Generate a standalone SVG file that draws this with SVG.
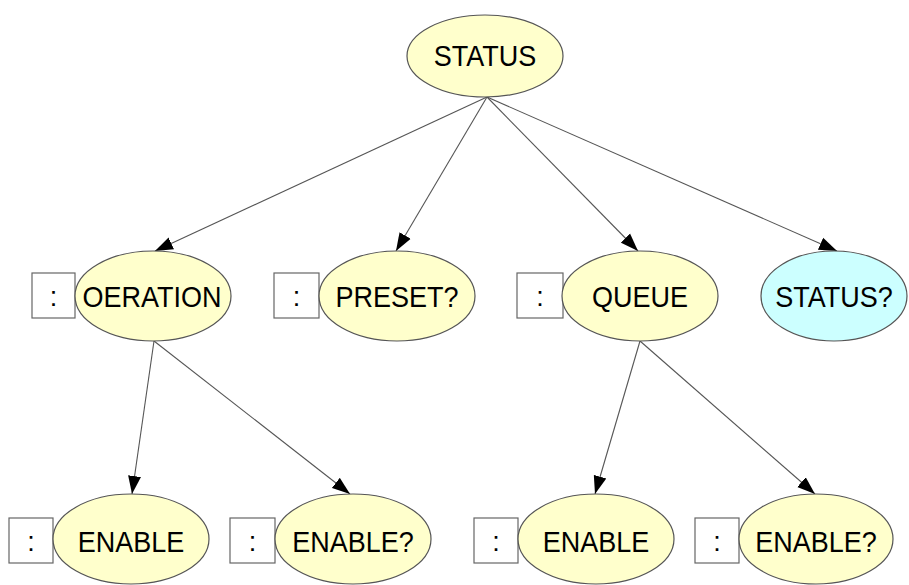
<svg xmlns="http://www.w3.org/2000/svg" width="909" height="585" viewBox="0 0 909 585">
  <style>
    .node ellipse { fill: #ffffcc; stroke: #555555; stroke-width: 1.2; }
    .node ellipse.query { fill: #ccffff; }
    .node rect { fill: #ffffff; stroke: #666666; stroke-width: 1.2; }
    text { font-family: "Liberation Sans", Arial, sans-serif; font-size: 27px; fill: #000000; text-anchor: middle; }
    .edges line { stroke: #555555; stroke-width: 1.1; marker-end: url(#arrow); }
  </style>
  <defs>
    <marker id="arrow" markerUnits="userSpaceOnUse" markerWidth="20" markerHeight="14" refX="18" refY="7" orient="auto">
      <path d="M0,0.5 L18,7 L0,13.5 Z" fill="#000000"/>
    </marker>
  </defs>
  <rect width="909" height="585" fill="#ffffff"/>

  <g class="edges">
    <line x1="487" y1="97" x2="155" y2="251"/>
    <line x1="487" y1="97" x2="396" y2="251"/>
    <line x1="487" y1="97" x2="638" y2="251"/>
    <line x1="487" y1="97" x2="837" y2="251"/>
    <line x1="154" y1="341" x2="132" y2="494"/>
    <line x1="154" y1="341" x2="350" y2="494"/>
    <line x1="640" y1="341" x2="595" y2="494"/>
    <line x1="640" y1="341" x2="815" y2="494"/>
  </g>

  <g id="status" class="node">
    <ellipse cx="485" cy="56" rx="78" ry="41"/>
    <text x="485" y="66" transform="translate(0,-6.6) scale(1,1.1)">STATUS</text>
  </g>

  <g id="operation" class="node">
    <rect x="32" y="273" width="43" height="45"/>
    <text x="53.5" y="306">:</text>
    <ellipse cx="153" cy="296" rx="78" ry="45"/>
    <text x="152" y="307" transform="translate(0,-30.7) scale(1,1.1)">OERATION</text>
  </g>

  <g id="preset" class="node">
    <rect x="274" y="273" width="45" height="45"/>
    <text x="296.5" y="306">:</text>
    <ellipse cx="397" cy="296" rx="78" ry="45"/>
    <text x="397" y="307" transform="translate(0,-30.7) scale(1,1.1)">PRESET?</text>
  </g>

  <g id="queue" class="node">
    <rect x="517" y="273" width="46" height="45"/>
    <text x="540" y="306">:</text>
    <ellipse cx="640" cy="296" rx="78" ry="45"/>
    <text x="640" y="307" transform="translate(0,-30.7) scale(1,1.1)">QUEUE</text>
  </g>

  <g id="status-query" class="node">
    <ellipse class="query" cx="834" cy="296" rx="73" ry="45"/>
    <text x="834" y="307" transform="translate(0,-30.7) scale(1,1.1)">STATUS?</text>
  </g>

  <g id="operation-enable" class="node">
    <rect x="9" y="518" width="44" height="45"/>
    <text x="31" y="551">:</text>
    <ellipse cx="131" cy="539" rx="78" ry="45"/>
    <text x="131" y="552" transform="translate(0,-55.2) scale(1,1.1)">ENABLE</text>
  </g>

  <g id="operation-enable-query" class="node">
    <rect x="230" y="518" width="45" height="45"/>
    <text x="252.5" y="551">:</text>
    <ellipse cx="353" cy="539" rx="78" ry="45"/>
    <text x="353" y="552" transform="translate(0,-55.2) scale(1,1.1)">ENABLE?</text>
  </g>

  <g id="queue-enable" class="node">
    <rect x="474" y="518" width="44" height="45"/>
    <text x="496" y="551">:</text>
    <ellipse cx="596" cy="539" rx="78" ry="45"/>
    <text x="596" y="552" transform="translate(0,-55.2) scale(1,1.1)">ENABLE</text>
  </g>

  <g id="queue-enable-query" class="node">
    <rect x="695" y="518" width="44" height="45"/>
    <text x="717" y="551">:</text>
    <ellipse cx="816" cy="539" rx="77" ry="45"/>
    <text x="816" y="552" transform="translate(0,-55.2) scale(1,1.1)">ENABLE?</text>
  </g>
</svg>
